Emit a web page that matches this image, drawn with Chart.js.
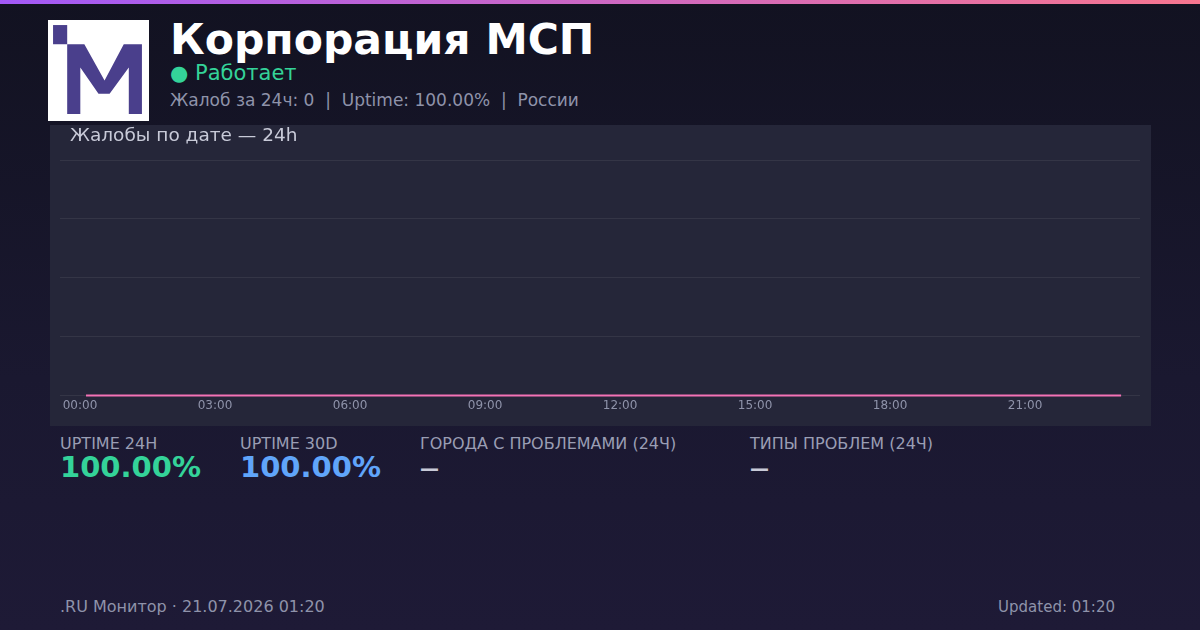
<!DOCTYPE html>
<html>
<head>
<meta charset="utf-8">
<script src="https://cdn.jsdelivr.net/npm/chart.js@4.4.1/dist/chart.umd.min.js"></script>
<style>
  html, body { margin: 0; padding: 0; }
  body {
    width: 1200px; height: 630px; overflow: hidden; position: relative;
    background: linear-gradient(180deg, #121221 0%, #1a1830 60%, #1e1a36 100%);
    font-family: "DejaVu Sans", sans-serif;
  }
  .topbar { position: absolute; left: 0; top: 0; width: 1200px; height: 4px;
    background: linear-gradient(90deg, #a259f7, #f7768f); }
  .logo { position: absolute; left: 48px; top: 20px; width: 101px; height: 101px; background: #fff; }
  .title { position: absolute; left: 170px; top: 15px; font-size: 42.5px; font-weight: bold; color: #fff; white-space: nowrap; }
  .status { position: absolute; left: 170px; top: 61px; font-size: 21px; color: #34d399; white-space: nowrap; }
  .sub { position: absolute; left: 170px; top: 90px; font-size: 17px; color: #8f93aa; white-space: nowrap; }
  .panel { position: absolute; left: 50px; top: 125px; width: 1101px; height: 301px; background: #252639; }
  .panel-title { position: absolute; left: 20px; top: -1px; font-size: 18.5px; color: #c8cad8; white-space: nowrap; }
  #chart { position: absolute; left: 0; top: 0; }
  .stat { position: absolute; top: 434px; }
  .stat .lbl { font-size: 16px; color: #9a9eb4; white-space: nowrap; }
  .stat .val { font-size: 29px; font-weight: bold; margin-top: -3px; white-space: nowrap; height: 36px; position: relative; }
  .stat .dash { position: absolute; left: 0; top: 8px; font-size: 19px; font-weight: bold; color: #c8cad8; line-height: 20px; }
  .footer { position: absolute; top: 597px; font-size: 16px; color: #8f93aa; white-space: nowrap; }
</style>
</head>
<body>
<div class="topbar"></div>
<div class="logo">
  <svg width="101" height="101" viewBox="0 0 100 100">
    <rect x="5" y="5" width="14" height="19" fill="#4a3f8c"/>
    <polygon fill="#4a3f8c" points="19,24 36,24 56,60 75,24 93,24 93,93 80,93 80,47 61,73 50,73 32,47 32,93 19,93"/>
  </svg>
</div>
<div class="title">Корпорация МСП</div>
<div class="status">● Работает</div>
<div class="sub">Жалоб за 24ч: 0 &nbsp;|&nbsp; Uptime: 100.00% &nbsp;|&nbsp; России</div>

<div class="panel">
  <canvas id="chart" width="1101" height="301"></canvas>
  <div class="panel-title">Жалобы по дате — 24h</div>
</div>

<div class="stat" style="left:60px"><div class="lbl">UPTIME 24H</div><div class="val" style="color:#34d399">100.00%</div></div>
<div class="stat" style="left:240px"><div class="lbl">UPTIME 30D</div><div class="val" style="color:#60a5fa">100.00%</div></div>
<div class="stat" style="left:420px"><div class="lbl">ГОРОДА С ПРОБЛЕМАМИ (24Ч)</div><div class="val"><span class="dash">—</span></div></div>
<div class="stat" style="left:750px"><div class="lbl">ТИПЫ ПРОБЛЕМ (24Ч)</div><div class="val"><span class="dash">—</span></div></div>

<div class="footer" style="left:60px">.RU Монитор · 21.07.2026 01:20</div>
<div class="footer" style="right:85px;font-size:15px;top:598px">Updated: 01:20</div>

<script>
'use strict';

var hourLabels = ['00:00', '01:00', '02:00', '03:00', '04:00', '05:00', '06:00', '07:00',
  '08:00', '09:00', '10:00', '11:00', '12:00', '13:00', '14:00', '15:00',
  '16:00', '17:00', '18:00', '19:00', '20:00', '21:00', '22:00', '23:00'];
var complaints = [0, 0, 0, 0, 0, 0, 0, 0, 0, 0, 0, 0, 0, 0, 0, 0, 0, 0, 0, 0, 0, 0, 0, 0];

var points = complaints.map(function(v, i) {
  return { x: i, y: v };
});

var ctx = document.getElementById('chart');

new Chart(ctx, {
  type: 'line',
  data: {
    datasets: [{
      data: points,
      borderColor: '#f472b6',
      borderWidth: 2,
      pointRadius: 0,
      fill: false,
      tension: 0,
      clip: 4
    }]
  },
  options: {
    responsive: false,
    animation: false,
    layout: { padding: { left: 10, right: 11, top: 35, bottom: 10 } },
    plugins: { legend: { display: false }, tooltip: { enabled: false } },
    scales: {
      x: {
        type: 'linear',
        min: -0.578,
        max: 23.42,
        afterBuildTicks: function(axis) {
          axis.ticks = [0, 3, 6, 9, 12, 15, 18, 21].map(function(v) { return { value: v }; });
        },
        grid: { display: false, drawTicks: false },
        border: { display: false },
        ticks: {
          padding: 3,
          labelOffset: -6,
          autoSkip: false,
          color: '#8f93aa',
          font: { family: 'DejaVu Sans', size: 12 },
          maxRotation: 0,
          callback: function(v) { return hourLabels[Math.round(v)]; }
        }
      },
      y: {
        min: 0,
        max: 4,
        grid: { color: 'rgba(255,255,255,0.07)', drawTicks: false },
        border: { display: false },
        ticks: { display: false, stepSize: 1 }
      }
    }
  }
});
</script>
</body>
</html>
